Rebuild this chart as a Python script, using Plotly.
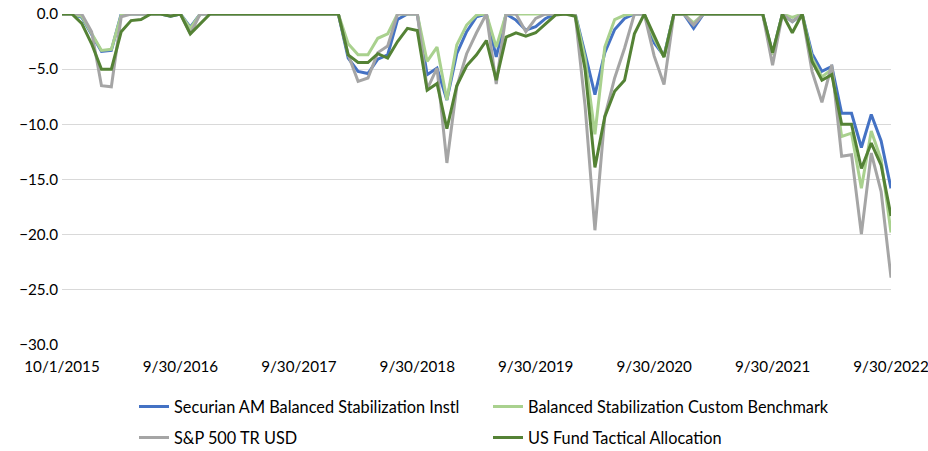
import plotly.graph_objects as go

# Monthly drawdown (%) from 10/1/2015 to 9/30/2022 (85 points)
securian = [0, 0, -0.3, -1.8, -3.4, -3.3, 0, 0, 0, 0, 0, -0.2, 0, -1.2, 0,
            0, 0, 0, 0, 0, 0, 0, 0, 0, 0, 0, 0, 0, 0,
            -4.0, -5.2, -5.4, -4.1, -3.7, -0.5, 0, 0, -5.5, -4.9, -7.8, -3.6, -1.6, -0.25, 0,
            -3.9, 0, -0.55, -1.45, -1.15, -0.4, 0, 0, 0,
            -3.6, -7.3, -3.5, -1.4, -0.4, 0, 0, -2.6, -3.8, 0, 0, -1.3,
            0, 0, 0, 0, 0, 0, 0, -3.6, 0, -0.7, 0,
            -3.6, -5.2, -4.75, -9.0, -9.0, -12.1, -9.1, -11.5, -15.8]
custom_bm = [0, 0, -0.2, -1.7, -3.3, -3.2, -0.1, 0, 0, 0, 0, -0.1, 0, -1.3, 0,
             0, 0, 0, 0, 0, 0, 0, 0, 0, 0, 0, 0, 0, 0,
             -2.7, -3.7, -3.7, -2.2, -1.8, 0, 0, 0, -4.3, -3.0, -7.8, -2.8, -1.0, -0.1, 0,
             -3.0, 0, 0, 0, 0, 0, 0, 0, 0,
             -4.0, -10.9, -3.0, -0.5, -0.1, 0, 0, -2.2, -3.9, 0, 0, -0.8,
             0, 0, 0, 0, 0, 0, 0, -3.7, 0, -0.3, 0,
             -4.0, -5.7, -5.0, -11.1, -10.8, -15.8, -10.6, -13.2, -19.8]
sp500 = [0, 0, 0, -1.6, -6.5, -6.6, -0.25, 0, 0, 0, 0, 0, 0, -1.8, 0,
         0, 0, 0, 0, 0, 0, 0, 0, 0, 0, 0, 0, 0, 0,
         -3.7, -6.1, -5.8, -3.5, -2.9, 0, 0, 0, -6.8, -4.9, -13.5, -6.6, -3.6, -1.7, 0,
         -6.35, 0, 0, -1.6, -0.4, 0, 0, 0, -0.04,
         -8.3, -19.6, -9.3, -5.8, -3.1, 0, 0, -3.8, -6.4, 0, 0, -1.0,
         0, 0, 0, 0, 0, 0, 0, -4.65, 0, -0.7, 0,
         -5.2, -8.0, -4.6, -12.9, -12.75, -19.95, -12.6, -16.1, -23.9]
tactical = [0, 0, -0.85, -2.7, -5.0, -5.0, -1.6, -0.6, -0.5, 0, 0, -0.2, 0, -1.8, -0.9,
            0, 0, 0, 0, 0, 0, 0, 0, 0, 0, 0, 0, 0, 0,
            -3.7, -4.4, -4.4, -3.6, -4.0, -2.5, -1.3, -1.5, -6.9, -6.3, -10.4, -6.5, -4.7, -3.7, -2.4,
            -6.0, -2.1, -1.7, -2.0, -1.7, -0.9, -0.1, 0, -0.2,
            -5.0, -13.9, -9.3, -7.0, -6.0, -1.8, 0, -2.0, -3.9, 0, 0, 0,
            0, 0, 0, 0, 0, 0, 0, -3.5, 0, -1.7, 0,
            -4.3, -6.0, -5.5, -10.0, -10.0, -14.0, -11.7, -13.7, -18.3]

tick_labels = ["10/1/2015", "9/30/2016", "9/30/2017", "9/30/2018",
               "9/30/2019", "9/30/2020", "9/30/2021", "9/30/2022"]
tick_step = 12

x = list(range(len(securian)))
tick_vals = [i * tick_step for i in range(len(tick_labels))]

FONT = "Lato, Carlito, Calibri, Arial, sans-serif"

series = [
    ("Securian AM Balanced Stabilization Instl", securian, "#4472C4", "legend"),
    ("Balanced Stabilization Custom Benchmark", custom_bm, "#A9D18E", "legend"),
    ("S&P 500 TR USD", sp500, "#A5A5A5", "legend2"),
    ("US Fund Tactical Allocation", tactical, "#548235", "legend2"),
]

fig = go.Figure()
for name, vals, color, leg in series:
    fig.add_trace(go.Scatter(x=x, y=vals, mode="lines", name=name,
                             line=dict(color=color, width=3), legend=leg,
                             hoverinfo="skip"))

legend_common = dict(orientation="h", xref="container", yref="container",
                     x=134 / 928, xanchor="left", yanchor="middle",
                     entrywidth=309, entrywidthmode="pixels",
                     font=dict(family=FONT, size=16.3, color="#000000"),
                     bgcolor="rgba(0,0,0,0)", traceorder="normal")

fig.update_layout(
    width=928, height=451,
    margin=dict(l=62, r=37, t=14, b=106, autoexpand=False),
    plot_bgcolor="white", paper_bgcolor="white",
    font=dict(family=FONT, size=15.2, color="#000000"),
    hovermode=False,
    xaxis=dict(range=[0, len(x) - 1], tickmode="array", tickvals=tick_vals,
               ticktext=tick_labels, showgrid=False, zeroline=False,
               showline=False, ticks="", ticklabelstandoff=11, automargin=False,
               ticklabeloverflow="allow"),
    yaxis=dict(range=[-30, 0], dtick=5, tickformat=".1f", showgrid=True,
               gridcolor="#D9D9D9", gridwidth=1, zeroline=False,
               showline=False, ticks="", ticklabelstandoff=3, automargin=False),
    legend=dict(y=1 - 407 / 451, **legend_common),
    legend2=dict(y=1 - 438 / 451, **legend_common),
)

fig.write_html("out.html", config={"displayModeBar": False},
               post_script="document.body.style.margin='0';")
